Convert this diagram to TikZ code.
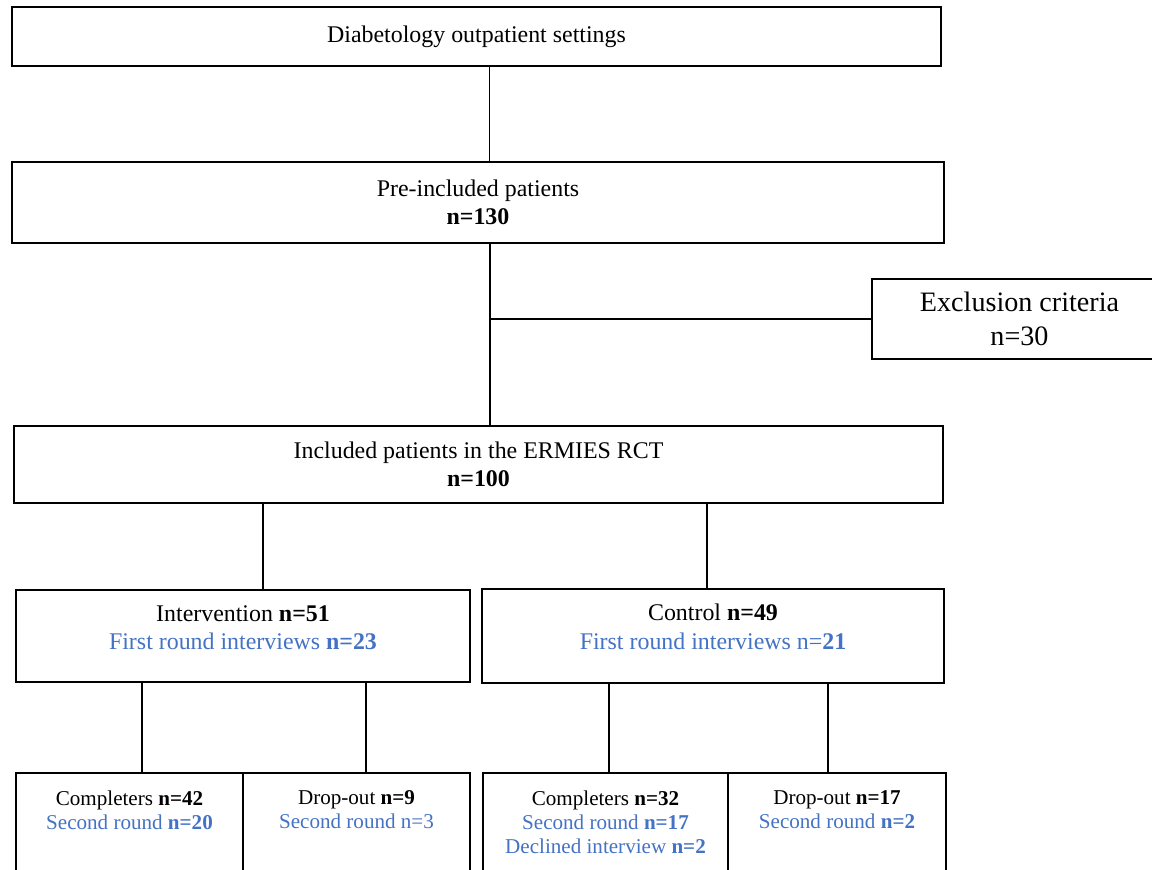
\documentclass[tikz,border=0pt]{standalone}
\usepackage{fontspec}
\setmainfont{Liberation Serif}
\usepackage{xcolor}
\usetikzlibrary{positioning}
\definecolor{roundblue}{HTML}{4472C4}

\begin{document}
\begin{tikzpicture}[line width=0.75pt,
	box/.style={draw,inner sep=0pt},
	bigtxt/.style={font=\fontsize{13.6}{16}\selectfont,align=center},
	smalltxt/.style={font=\fontsize{12}{13.6}\selectfont,align=center}]
	\useasboundingbox (0,0) rectangle (23.04,-17.38);
	\clip (0,0) rectangle (23.04,-17.38);
	
	%settings
	\node[box,bigtxt,minimum width=18.58cm,minimum height=1.18cm] (settings) at (9.53,-0.73) {Diabetology outpatient settings};
	
	%pre-included
	\node[box,bigtxt,minimum width=18.64cm,minimum height=1.62cm] (pre) at (9.56,-4.05) {Pre-included patients\\\textbf{n=130}};
	\draw ([xshift=0.26cm]settings.south) coordinate (c0) -- (c0 |- pre.north);
	
	%exclusion
	\node[box,font=\fontsize{16}{19.3}\selectfont,align=center,minimum width=5.9cm,minimum height=1.6cm] (excl) at (20.39,-6.38) {Exclusion criteria\\n=30};
	
	%included
	\node[box,bigtxt,minimum width=18.58cm,minimum height=1.54cm] (incl) at (9.57,-9.29) {Included patients in the ERMIES RCT\\\textbf{n=100}};
	\draw ([xshift=0.24cm]pre.south) coordinate (c1) -- (c1 |- incl.north);
	\draw (excl.west) -- (excl.west -| c1);
	
	%groups
	\node[box,minimum width=9.08cm,minimum height=1.84cm] (interv) at (4.86,-12.72) {};
	\node[bigtxt,below=0.19cm of interv.north] (intervtxt) {Intervention \textbf{n=51}\\\textcolor{roundblue}{First round interviews \textbf{n=23}}};
	\node[box,minimum width=9.24cm,minimum height=1.88cm] (ctrl) at (14.26,-12.72) {};
	\node[bigtxt,below=0.19cm of ctrl.north] (ctrltxt) {Control \textbf{n=49}\\\textcolor{roundblue}{First round interviews n=\textbf{21}}};
	\draw ([xshift=0.4cm]interv.north) coordinate (c2) -- (c2 |- incl.south);
	\draw ([xshift=-0.12cm]ctrl.north) coordinate (c3) -- (c3 |- incl.south);
	
	%completers and drop-outs
	\node[box,minimum width=4.54cm,minimum height=3cm] (comp1) at (2.59,-16.96) {};
	\node[box,minimum width=4.54cm,minimum height=3cm] (drop1) at (7.13,-16.96) {};
	\node[box,minimum width=4.9cm,minimum height=3cm] (comp2) at (12.11,-16.96) {};
	\node[box,minimum width=4.36cm,minimum height=3cm] (drop2) at (16.74,-16.96) {};
	\node[smalltxt,below=0.24cm of comp1.north] (comp1txt) {Completers \textbf{n=42}\\\textcolor{roundblue}{Second round \textbf{n=20}}};
	\node[smalltxt,below=0.24cm of drop1.north] (drop1txt) {Drop-out \textbf{n=9}\\\textcolor{roundblue}{Second round n=3}};
	\node[smalltxt,below=0.24cm of comp2.north] (comp2txt) {Completers \textbf{n=32}\\\textcolor{roundblue}{Second round \textbf{n=17}}\\\textcolor{roundblue}{Declined interview \textbf{n=2}}};
	\node[smalltxt,below=0.24cm of drop2.north] (drop2txt) {Drop-out \textbf{n=17}\\\textcolor{roundblue}{Second round \textbf{n=2}}};
	\draw ([xshift=0.25cm]comp1.north) coordinate (c4) -- (c4 |- interv.south);
	\draw ([xshift=0.19cm]drop1.north) coordinate (c5) -- (c5 |- interv.south);
	\draw ([xshift=0.07cm]comp2.north) coordinate (c6) -- (c6 |- ctrl.south);
	\draw ([xshift=-0.18cm]drop2.north) coordinate (c7) -- (c7 |- ctrl.south);
\end{tikzpicture}
\end{document}
